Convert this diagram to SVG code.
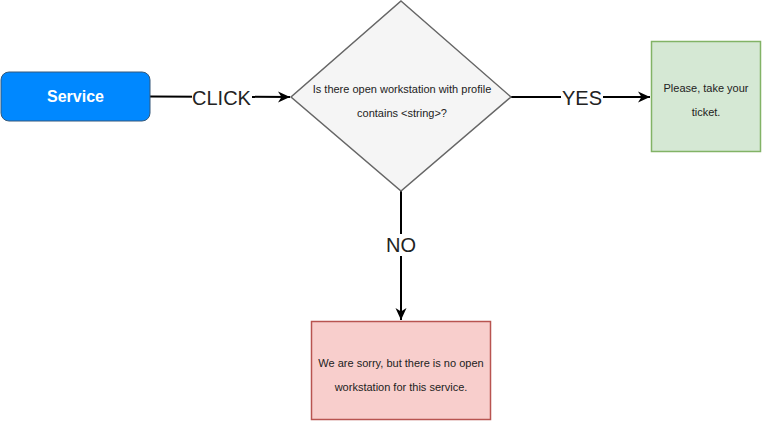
<svg xmlns="http://www.w3.org/2000/svg" width="763" height="422" viewBox="0 0 763 422">
<style>
text{font-family:"Liberation Sans",Arial,sans-serif;text-anchor:middle;dominant-baseline:central}
.s{font-size:11px;fill:#222}
.lbl{font-size:20px;fill:#222}
.c{stroke:#000;stroke-width:2;fill:none}
</style>
<defs>
<marker id="ah" markerWidth="13" markerHeight="12" refX="12" refY="6" orient="auto" markerUnits="userSpaceOnUse">
<path d="M0,0.5 L12,6 L0,11.5 L3.5,6 z" fill="#000"/>
</marker>
</defs>
<rect width="763" height="422" fill="#fff"/>
<g id="connectors">
<path class="c" d="M150,96.5 L290,97" marker-end="url(#ah)"/>
<rect x="192" y="86" width="60" height="22" fill="#fff"/>
<text class="lbl" x="221.5" y="97.5">CLICK</text>
<path class="c" d="M511,97 L650,97" marker-end="url(#ah)"/>
<rect x="561" y="86" width="42" height="22" fill="#fff"/>
<text class="lbl" x="582" y="98">YES</text>
<path class="c" d="M401,191 L401,320" marker-end="url(#ah)"/>
<rect x="385" y="234" width="32" height="22" fill="#fff"/>
<text class="lbl" x="401" y="245">NO</text>
</g>
<g id="service">
<rect x="1" y="72" width="149" height="49" rx="8" fill="#0088ff" stroke="#36597a" stroke-width="1"/>
<text x="75.5" y="96.5" style="font-size:16px;font-weight:bold;fill:#fff">Service</text>
</g>
<g id="decision">
<path d="M401,1 L511,97 L401,191 L291,97 Z" fill="#f5f5f5" stroke="#666" stroke-width="1.5"/>
<text class="s" x="402" y="89">Is there open workstation with profile</text>
<text class="s" x="402" y="113">contains &lt;string&gt;?</text>
</g>
<g id="yes-box">
<rect x="651.5" y="41.5" width="109" height="110" fill="#d5e8d4" stroke="#82b366" stroke-width="1.5"/>
<text class="s" x="706" y="88">Please, take your</text>
<text class="s" x="706" y="112">ticket.</text>
</g>
<g id="no-box">
<rect x="311.5" y="321.5" width="179" height="98" fill="#f8cecc" stroke="#b85450" stroke-width="1.5"/>
<text class="s" x="401" y="363">We are sorry, but there is no open</text>
<text class="s" x="401" y="387">workstation for this service.</text>
</g>
</svg>
